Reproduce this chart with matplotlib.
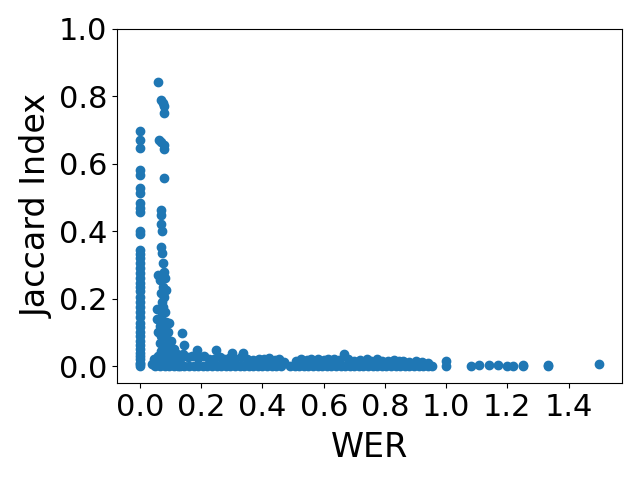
import matplotlib
matplotlib.use("Agg")
import matplotlib.pyplot as plt
import numpy as np

# Cluster at WER = 0
zero_wer = [0.0] * 40
zero_jac = [0.697, 0.67, 0.647, 0.58, 0.567, 0.528, 0.513, 0.484, 0.469, 0.457,
            0.40, 0.392, 0.344, 0.333, 0.32, 0.305, 0.29, 0.275, 0.262, 0.248,
            0.235, 0.222, 0.205, 0.19, 0.175, 0.16, 0.145, 0.128, 0.115, 0.10,
            0.088, 0.075, 0.063, 0.05, 0.04, 0.03, 0.02, 0.01, 0.005, 0.0]

# Cluster near WER ~ 0.07
low_wer = [0.057, 0.07, 0.075, 0.077, 0.077, 0.062, 0.07, 0.077, 0.077, 0.077,
           0.07, 0.07, 0.07, 0.072, 0.07, 0.072, 0.075, 0.078, 0.07, 0.065,
           0.08, 0.075, 0.07, 0.078, 0.072, 0.054, 0.075, 0.08, 0.07, 0.085,
           0.093, 0.065, 0.075, 0.09, 0.07, 0.085, 0.10, 0.065, 0.08, 0.095,
           0.11, 0.07, 0.09, 0.12, 0.06, 0.08, 0.10, 0.13, 0.05, 0.065,
           0.085, 0.11, 0.05, 0.065, 0.08, 0.095, 0.11, 0.125, 0.04, 0.045,
           0.055, 0.06, 0.085, 0.06]
low_jac = [0.843, 0.79, 0.78, 0.77, 0.75, 0.67, 0.665, 0.655, 0.645, 0.558,
           0.463, 0.448, 0.42, 0.40, 0.353, 0.335, 0.305, 0.28, 0.27, 0.255,
           0.262, 0.235, 0.217, 0.205, 0.19, 0.168, 0.175, 0.16, 0.145, 0.13,
           0.128, 0.12, 0.11, 0.10, 0.09, 0.085, 0.075, 0.07, 0.06, 0.055,
           0.05, 0.045, 0.04, 0.035, 0.03, 0.025, 0.025, 0.022, 0.015, 0.01,
           0.012, 0.01, 0.0, 0.0, 0.0, 0.0, 0.0, 0.0, 0.005, 0.02,
           0.14, 0.10, 0.225, 0.27]

# Isolated raised points
mid_wer = [0.136, 0.142, 0.185, 0.248, 0.30, 0.335, 0.666]
mid_jac = [0.098, 0.062, 0.047, 0.047, 0.038, 0.038, 0.036]

# Dense band near zero
band_wer = [0.13, 0.145, 0.16, 0.175, 0.19, 0.205, 0.22, 0.235, 0.25, 0.265,
            0.28, 0.295, 0.31, 0.325, 0.34, 0.355, 0.37, 0.385, 0.40, 0.415,
            0.43, 0.445, 0.46, 0.49, 0.505, 0.52, 0.535, 0.55, 0.565, 0.58,
            0.595, 0.61, 0.625, 0.64, 0.655, 0.67, 0.685, 0.70, 0.715, 0.73,
            0.745, 0.76, 0.775, 0.79, 0.805, 0.82, 0.835, 0.85, 0.865, 0.88,
            0.895, 0.91, 0.925, 0.94, 0.955,
            0.12, 0.14, 0.155, 0.17, 0.19, 0.21, 0.225, 0.24, 0.26, 0.275,
            0.29, 0.31, 0.33, 0.35, 0.37, 0.39, 0.405, 0.42, 0.44, 0.455,
            0.47, 0.51, 0.525, 0.545, 0.56, 0.58, 0.60, 0.615, 0.635, 0.65,
            0.68, 0.70, 0.72, 0.74, 0.755, 0.775, 0.79, 0.81, 0.83, 0.845,
            0.86, 0.88, 0.90, 0.92, 0.94]
band_jac = [0.0] * 55 + [
            0.03, 0.035, 0.028, 0.03, 0.025, 0.03, 0.022, 0.02, 0.026, 0.02,
            0.025, 0.02, 0.026, 0.022, 0.018, 0.02, 0.022, 0.024, 0.018, 0.02,
            0.012, 0.014, 0.02, 0.018, 0.022, 0.02, 0.018, 0.022, 0.02, 0.018,
            0.02, 0.016, 0.018, 0.02, 0.016, 0.02, 0.014, 0.016, 0.018, 0.015,
            0.016, 0.012, 0.014, 0.012, 0.01]

# Sparse tail at high WER
tail_wer = [1.0, 1.0, 1.08, 1.107, 1.14, 1.17, 1.2, 1.22, 1.25, 1.25, 1.333, 1.333, 1.5]
tail_jac = [0.0, 0.015, 0.0, 0.002, 0.003, 0.003, 0.0, 0.0, 0.004, 0.0, 0.003, 0.0, 0.005]

x_ticks = [0.0, 0.2, 0.4, 0.6, 0.8, 1.0, 1.2, 1.4]
y_ticks = [0.0, 0.2, 0.4, 0.6, 0.8, 1.0]

wer = zero_wer + low_wer + mid_wer + band_wer + tail_wer
jac = zero_jac + low_jac + mid_jac + band_jac + tail_jac

fig, ax = plt.subplots(figsize=(6.4, 4.8), dpi=100)
ax.scatter(wer, jac, color='#1f77b4')
ax.set_ylim(-0.05, 1.0)
ax.set_xticks(x_ticks)
ax.set_yticks(y_ticks)
ax.set_xticklabels([f"{t:.1f}" for t in x_ticks])
ax.set_yticklabels([f"{t:.1f}" for t in y_ticks])
ax.tick_params(labelsize=22)
ax.set_xlabel('WER', fontsize=24, labelpad=7)
ax.set_ylabel('Jaccard Index', fontsize=24)
fig.subplots_adjust(left=0.183, right=0.972, bottom=0.202, top=0.94)
fig.savefig('out.png', dpi=100)
